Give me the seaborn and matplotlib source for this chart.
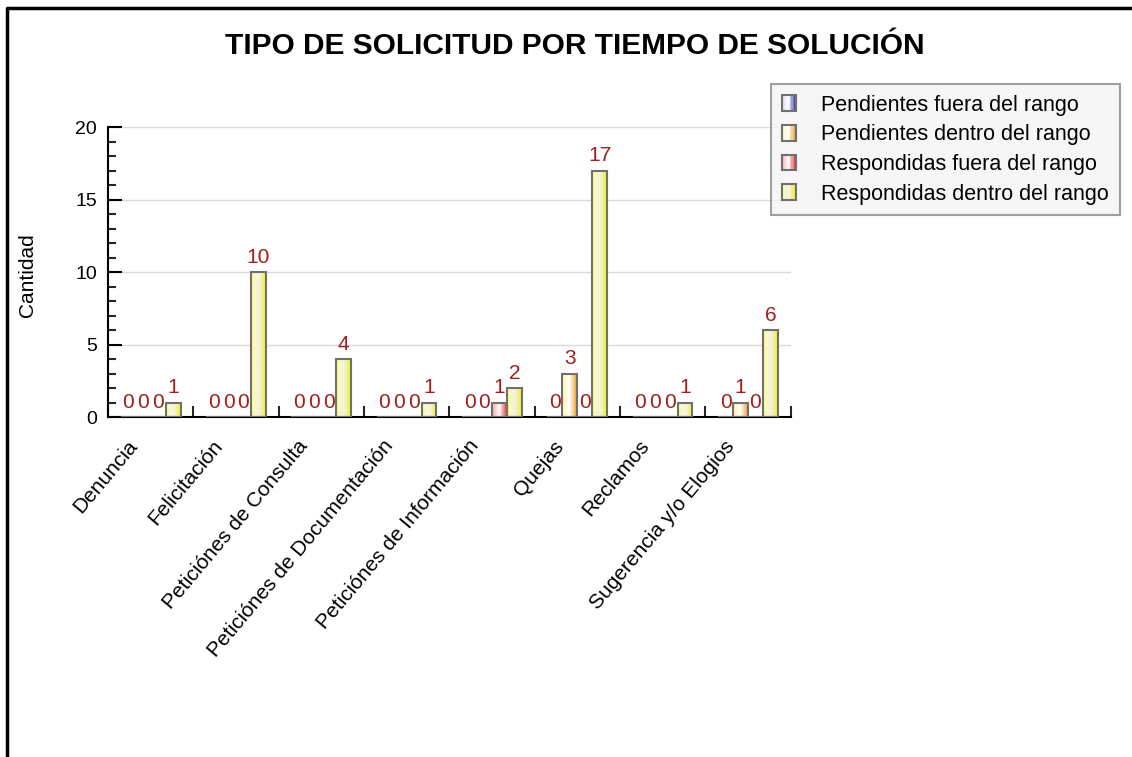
import numpy as np
import pandas as pd
import seaborn as sns
import matplotlib.pyplot as plt
from matplotlib.colors import LinearSegmentedColormap
from matplotlib.lines import Line2D
from matplotlib.patches import Patch, Rectangle
from matplotlib.legend_handler import HandlerBase
from matplotlib.transforms import ScaledTranslation
from matplotlib.ticker import MultipleLocator, FixedLocator

# ---- data ----
categories = ["Denuncia", "Felicitación", "Peticiónes de Consulta",
              "Peticiónes de Documentación", "Peticiónes de Información",
              "Quejas", "Reclamos", "Sugerencia y/o Elogios"]
series = ["Pendientes fuera del rango", "Pendientes dentro del rango",
          "Respondidas fuera del rango", "Respondidas dentro del rango"]
pend_fuera = [0, 0, 0, 0, 0, 0, 0, 0]
pend_dentro = [0, 0, 0, 0, 0, 3, 0, 1]
resp_fuera = [0, 0, 0, 0, 1, 0, 0, 0]
resp_dentro = [1, 10, 4, 1, 2, 17, 1, 6]

# gradient colours (left, centre, right) per series
GRADIENTS = {
    series[0]: ["#d6d6f2", "#ffffff", "#3a3aa8"],
    series[1]: ["#fff4a8", "#ffffff", "#f0a030"],
    series[2]: ["#f6a8a8", "#ffffff", "#e83a3a"],
    series[3]: ["#ffff8a", "#f2f2f2", "#f2f21e"],
}
CMAPS = {s: LinearSegmentedColormap.from_list(s, c) for s, c in GRADIENTS.items()}
LABEL_COLOUR = "#a31d1d"
EDGE = "#707070"


class GradientHandler(HandlerBase):
    """Legend key drawn as vertical colour strips with a grey border."""
    def create_artists(self, legend, orig_handle, xdescent, ydescent,
                       width, height, fontsize, trans):
        cmap = CMAPS[orig_handle.get_label()]
        n = 10
        arts = []
        for i in range(n):
            arts.append(Rectangle((-xdescent + i * width / n, -ydescent), width / n, height,
                                  facecolor=cmap((i + 0.5) / n), edgecolor="none",
                                  transform=trans))
        arts.append(Rectangle((-xdescent, -ydescent), width, height, facecolor="none",
                              edgecolor=EDGE, linewidth=1.5, transform=trans))
        return arts


df = pd.DataFrame({
    "Tipo": categories * 4,
    "Serie": [s for s in series for _ in categories],
    "Cantidad": pend_fuera + pend_dentro + resp_fuera + resp_dentro,
})

sns.set_theme(style="white")
plt.rcParams["font.family"] = ["Liberation Sans", "DejaVu Sans"]
plt.rcParams["text.color"] = "black"

fig = plt.figure(figsize=(11.32, 7.57), dpi=100)
ax = fig.add_axes([0.0954, 0.449, 0.603, 0.383])

sns.barplot(data=df, x="Tipo", y="Cantidad", hue="Serie", hue_order=series,
            order=categories, width=0.7, ax=ax, legend=False,
            edgecolor=EDGE, linewidth=1.5,
            palette=["#3a3aa8", "#f0a030", "#e83a3a", "#f2f21e"])

# gradient fill inside every bar
grad = np.linspace(0, 1, 64).reshape(1, -1)
for container, name in zip(ax.containers, series):
    for bar in container:
        x0, y0 = bar.get_x(), bar.get_y()
        w, h = bar.get_width(), bar.get_height()
        bar.set_facecolor("none")
        bar.set_zorder(3)
        if h <= 0:
            continue
        im = ax.imshow(grad, cmap=CMAPS[name], aspect="auto",
                       extent=[x0, x0 + w, y0, y0 + h], zorder=2)
        im.set_clip_path(bar)
    ax.bar_label(container, padding=4, color=LABEL_COLOUR, fontsize=15)

ax.set_xlim(-0.5, 7.5)
ax.set_ylim(0, 20)

# axes styling
for side in ["top", "right"]:
    ax.spines[side].set_visible(False)
for side in ["left", "bottom"]:
    ax.spines[side].set_color("black")
    ax.spines[side].set_linewidth(1.5)
ax.yaxis.set_major_locator(MultipleLocator(5))
ax.yaxis.set_minor_locator(MultipleLocator(1))
ax.yaxis.grid(True, color="#dadada", linewidth=1)
ax.set_axisbelow(True)
ax.tick_params(axis="y", which="major", direction="in", length=10, width=1.5,
               left=True, labelsize=14, colors="black", pad=8)
ax.tick_params(axis="y", which="minor", direction="in", length=6, width=1.5, left=True)
ax.xaxis.set_minor_locator(FixedLocator(np.arange(-0.5, 8.0, 1.0)))
ax.tick_params(axis="x", which="minor", direction="in", length=8, width=1.5, bottom=True)
ax.tick_params(axis="x", which="major", length=0, labelsize=15, pad=14, colors="black")
shift = ScaledTranslation(-0.24, 0, fig.dpi_scale_trans)
for lab in ax.get_xticklabels():
    lab.set_rotation(50)
    lab.set_ha("right")
    lab.set_rotation_mode("anchor")
    lab.set_transform(lab.get_transform() + shift)
ax.set_xlabel("")
ax.set_ylabel("")
fig.text(28 / 1132, 1 - 275 / 757, "Cantidad", rotation=90, ha="center", va="center",
         fontsize=15)

fig.text(0.508, 1 - 46 / 757, "TIPO DE SOLICITUD POR TIEMPO DE SOLUCIÓN",
         ha="center", va="center", fontsize=21.5, fontweight="bold")

handles = [Patch(label=s) for s in series]
leg = fig.legend(handles, series, loc="upper right",
                 bbox_to_anchor=(1120 / 1132, 1 - 84 / 757),
                 handler_map={Patch: GradientHandler()},
                 frameon=True, fancybox=False, fontsize=15.5, handlelength=0.65,
                 handleheight=0.75, handletextpad=1.2, borderpad=0.5, labelspacing=0.4,
                 borderaxespad=0)
leg.get_frame().set_facecolor("#f4f4f4")
leg.get_frame().set_edgecolor("#888888")
leg.get_frame().set_linewidth(1.5)

# outer frame (left and top)
fig.add_artist(Line2D([7 / 1132, 7 / 1132, 1.0], [0.0, 1 - 8 / 757, 1 - 8 / 757],
                      transform=fig.transFigure, color="black", linewidth=2.5))

fig.savefig("out.png", dpi=100)
